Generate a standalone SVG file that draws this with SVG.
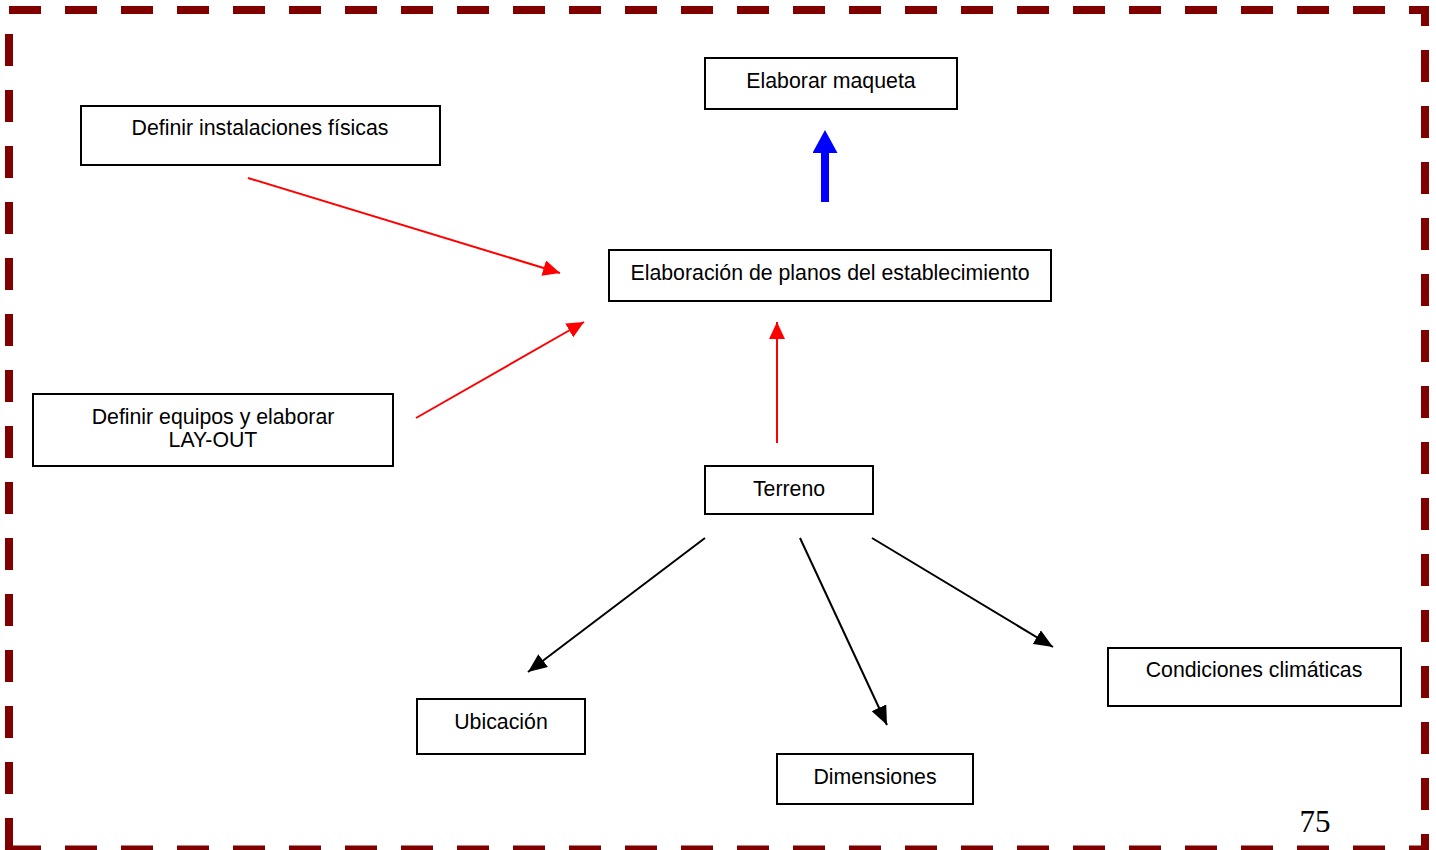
<svg xmlns="http://www.w3.org/2000/svg" width="1436" height="850" viewBox="0 0 1436 850">
<style>
.box{fill:#fff;stroke:#000;stroke-width:2}
.t{font-family:"Liberation Sans",Arial,sans-serif;font-size:21.3px;fill:#000;text-anchor:middle}
.border{fill:none;stroke:#800000;stroke-width:8;stroke-dasharray:32 24}
.red{stroke:#ff0000;stroke-width:2;fill:none}
.blk{stroke:#000;stroke-width:2;fill:none}
</style>
<defs>
<marker id="ar" markerUnits="userSpaceOnUse" markerWidth="18" markerHeight="16" refX="17" refY="8" orient="auto"><path d="M0,0 L17,8 L0,16 z" fill="#ff0000"/></marker>
<marker id="ab" markerUnits="userSpaceOnUse" markerWidth="20" markerHeight="16" refX="19" refY="8" orient="auto"><path d="M0,0 L19,8 L0,16 z" fill="#000"/></marker>
<marker id="au" markerUnits="userSpaceOnUse" markerWidth="24" markerHeight="26" refX="0" refY="12.5" orient="auto"><path d="M0,0 L23,12.5 L0,25 z" fill="#0000ff"/></marker>
</defs>
<rect width="1436" height="850" fill="#fff"/>
<g id="border">
<path class="border" d="M9,10 H1425 V849"/>
<path class="border" d="M9,849.5 H1429"/>
<path class="border" d="M9,10 V854" style="stroke-dashoffset:32"/>
</g>
<g id="connectors">
<line class="red" x1="248" y1="178" x2="560" y2="273" marker-end="url(#ar)"/>
<line class="red" x1="416" y1="418" x2="584" y2="322" marker-end="url(#ar)"/>
<line class="red" x1="777" y1="443" x2="777" y2="322" marker-end="url(#ar)"/>
<line x1="825" y1="202" x2="825" y2="153" stroke="#0000ff" stroke-width="8" marker-end="url(#au)"/>
<line class="blk" x1="705" y1="538" x2="528" y2="672" marker-end="url(#ab)"/>
<line class="blk" x1="800" y1="538" x2="887" y2="725" marker-end="url(#ab)"/>
<line class="blk" x1="872" y1="538" x2="1053" y2="647" marker-end="url(#ab)"/>
</g>
<g id="n-maqueta"><rect class="box" x="705" y="58" width="252" height="51"/><text class="t" x="831" y="88">Elaborar maqueta</text></g>
<g id="n-instalaciones"><rect class="box" x="81" y="106" width="359" height="59"/><text class="t" x="260" y="135">Definir instalaciones físicas</text></g>
<g id="n-planos"><rect class="box" x="609" y="250" width="442" height="51"/><text class="t" x="830" y="280">Elaboración de planos del establecimiento</text></g>
<g id="n-equipos"><rect class="box" x="33" y="394" width="360" height="72"/><text class="t" x="213" y="424">Definir equipos y elaborar</text><text class="t" x="213" y="447">LAY-OUT</text></g>
<g id="n-terreno"><rect class="box" x="705" y="466" width="168" height="48"/><text class="t" x="789" y="496">Terreno</text></g>
<g id="n-ubicacion"><rect class="box" x="417" y="699" width="168" height="55"/><text class="t" x="501" y="729">Ubicación</text></g>
<g id="n-dimensiones"><rect class="box" x="777" y="754" width="196" height="50"/><text class="t" x="875" y="784">Dimensiones</text></g>
<g id="n-condiciones"><rect class="box" x="1108" y="648" width="293" height="58"/><text class="t" x="1254" y="677">Condiciones climáticas</text></g>
<text x="1315" y="832" font-family="'Liberation Serif','Times New Roman',serif" font-size="31" text-anchor="middle">75</text>
</svg>
